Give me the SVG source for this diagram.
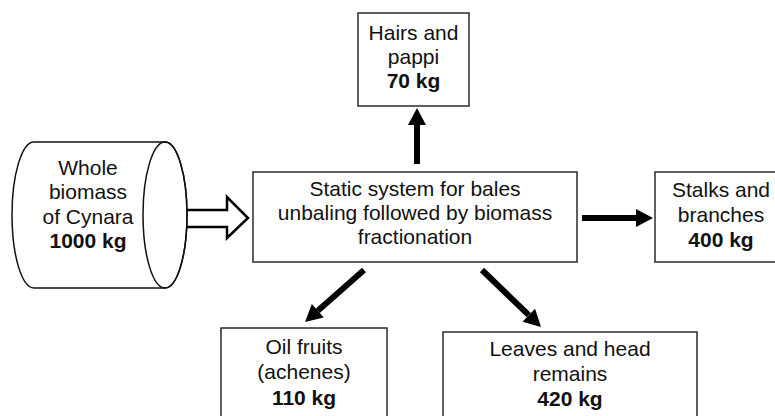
<svg xmlns="http://www.w3.org/2000/svg" width="775" height="416" viewBox="0 0 775 416">
<style>
.box{fill:#fff;stroke:#2a2a2a;stroke-width:1.5}
.t{font-family:"Liberation Sans",Arial,sans-serif;font-size:21px;fill:#111;text-anchor:middle}
.b{font-weight:bold}
.arr{stroke:#000;stroke-width:6;fill:none}
</style>
<defs>
<marker id="head" markerUnits="userSpaceOnUse" markerWidth="20" markerHeight="20" viewBox="0 -10 18 20" refX="0" refY="0" orient="auto">
<path d="M0,-9 L17,0 L0,9 Z" fill="#000"/>
</marker>
</defs>
<rect width="775" height="416" fill="#fff"/>
<g id="connectors">
<polygon points="170,210 227,210 227,197 248,218 227,238 227,227 170,227" fill="#fff" stroke="#000" stroke-width="2.5" stroke-linejoin="miter"/>
<line class="arr" x1="417" y1="164" x2="417" y2="125" marker-end="url(#head)"/>
<line class="arr" x1="582" y1="218" x2="636" y2="218" marker-end="url(#head)"/>
<line class="arr" x1="364" y1="270" x2="317.8" y2="310.8" marker-end="url(#head)"/>
<line class="arr" x1="482" y1="270" x2="528.8" y2="315.2" marker-end="url(#head)"/>
</g>
<g id="cylinder">
<path d="M34,142 L165,142 A22,73 0 0 1 165,288 L34,288 A22,73 0 0 1 34,142 Z" fill="#fff" stroke="#111" stroke-width="1.5"/>
<ellipse cx="165" cy="215" rx="22" ry="73" fill="none" stroke="#111" stroke-width="1.5"/>
<text class="t" x="88" y="175">Whole</text>
<text class="t" x="88" y="199">biomass</text>
<text class="t" x="88" y="224">of Cynara</text>
<text class="t b" x="88" y="248">1000 kg</text>
</g>
<g id="main">
<rect class="box" x="253" y="172" width="324" height="90"/>
<text class="t" x="415" y="196">Static system for bales</text>
<text class="t" x="415" y="220">unbaling followed by biomass</text>
<text class="t" x="415" y="244">fractionation</text>
</g>
<g id="hairs">
<rect class="box" x="358" y="13" width="111" height="93"/>
<text class="t" x="413.5" y="40">Hairs and</text>
<text class="t" x="413.5" y="64">pappi</text>
<text class="t b" x="413.5" y="88">70 kg</text>
</g>
<g id="stalks">
<rect class="box" x="655" y="172" width="130" height="90"/>
<text class="t" x="721" y="197">Stalks and</text>
<text class="t" x="721" y="222">branches</text>
<text class="t b" x="721" y="247">400 kg</text>
</g>
<g id="oil">
<rect class="box" x="221" y="328" width="166" height="100"/>
<text class="t" x="304" y="354">Oil fruits</text>
<text class="t" x="304" y="379">(achenes)</text>
<text class="t b" x="304" y="405">110 kg</text>
</g>
<g id="leaves">
<rect class="box" x="443" y="332" width="254" height="100"/>
<text class="t" x="570" y="356">Leaves and head</text>
<text class="t" x="570" y="381">remains</text>
<text class="t b" x="570" y="406">420 kg</text>
</g>
</svg>
